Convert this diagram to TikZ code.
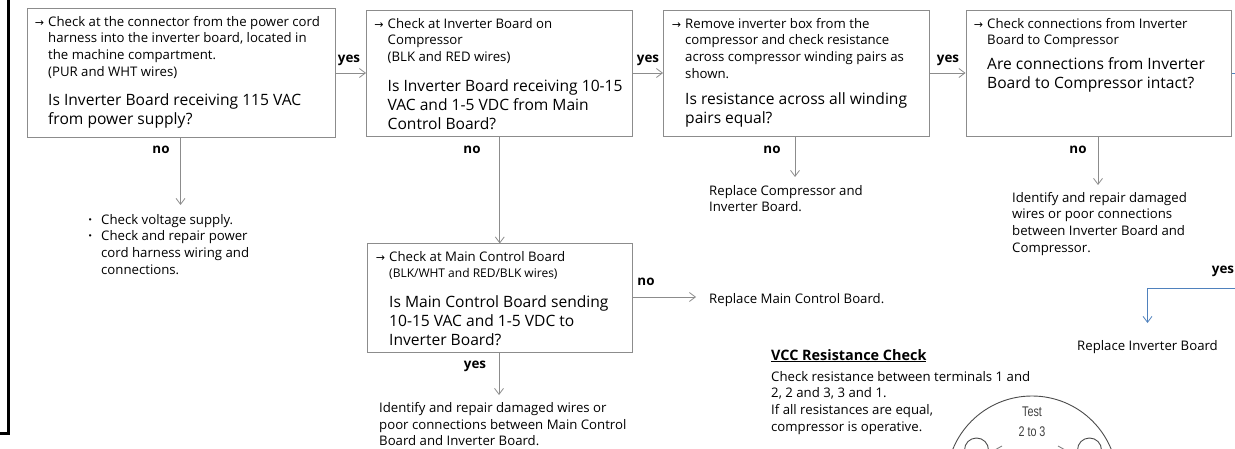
\documentclass[tikz,border=0pt]{standalone}
\usepackage{fontspec}
\usepackage{tikz}
\usetikzlibrary{arrows.meta}
\setmainfont{Open Sans}
\newfontfamily\arrowfont{DejaVu Sans}
\newfontfamily\testfont[FakeStretch=0.77]{Liberation Sans}
\definecolor{boxgray}{HTML}{8C8C8C}
\definecolor{flowblue}{HTML}{4F81BD}
\newcommand{\markarrow}{\llap{\fontsize{11}{11}\arrowfont →\hspace{4pt}}}
\newcommand{\markdot}{\llap{\textbf{·}\hspace{9pt}}}
\tikzset{
  checkbox/.style={draw=boxgray, line width=1pt, anchor=north west, inner sep=0pt},
  flow/.style={draw=boxgray, line width=0.8pt, ->, >={Straight Barb[length=6pt,width=9pt]}},
  answer/.style={font=\fontsize{13.4}{15}\selectfont\bfseries, inner sep=0pt},
  small/.style={font=\fontsize{13.2}{16.7}\selectfont, inner sep=0pt, align=left, anchor=north west},
  big/.style={font=\fontsize{15.6}{19}\selectfont, inner sep=0pt, align=left, anchor=north west},
  testlabel/.style={font=\fontsize{14}{14}\testfont, text=black!75, inner sep=0pt}
}
\begin{document}
\begin{tikzpicture}[x=1pt, y=-1pt]
    \useasboundingbox (0, 0) rectangle (1235, 449);

    % frame on the left
    \draw[line width=2.5pt] (8.5, 0) -- (8.5, 433.5) -- (0, 433.5);

    % boxes
    \node[checkbox, minimum width=308pt, minimum height=129pt] (power) at (26.5, 8) {};
    \node[checkbox, minimum width=265.5pt, minimum height=126pt] (inverter) at (366, 10) {};
    \node[checkbox, minimum width=265.5pt, minimum height=126pt] (winding) at (663, 10) {};
    \node[checkbox, minimum width=265.5pt, minimum height=126pt] (wiring) at (965.5, 10) {};
    \node[checkbox, minimum width=264.5pt, minimum height=108pt] (mainboard) at (367, 243.5) {};

    % text in the boxes
    \node[small] (powertext) at (48, 16) {\markarrow Check at the connector from the power cord\\harness into the inverter board, located in\\the machine  compartment.\\(PUR and WHT wires)};
    \node[big] (powerask) at (48, 93) {Is Inverter Board receiving 115 VAC\\from power supply?};

    \node[small] (invertertext) at (387.5, 18) {\markarrow Check at Inverter Board on\\Compressor\\(BLK and RED wires)};
    \node[big] (inverterask) at (387.5, 79) {Is Inverter Board receiving 10-15\\VAC and 1-5 VDC from Main\\Control Board?};

    \node[small] (windingtext) at (685, 18) {\markarrow Remove inverter box from the\\compressor and check resistance\\across compressor winding pairs as\\shown.};
    \node[big] (windingask) at (685, 92) {Is resistance across all winding\\pairs equal?};

    \node[small] (wiringtext) at (987, 18) {\markarrow Check connections from Inverter\\Board to Compressor};
    \node[big] (wiringask) at (987, 57) {Are connections from Inverter\\Board to Compressor intact?};

    \node[small] (maintext) at (389, 251) {\markarrow Check at Main Control Board\\{\fontsize{12}{15}\selectfont (BLK/WHT and RED/BLK wires)}};
    \node[big] (mainask) at (389, 295) {Is Main Control Board sending\\10-15 VAC and 1-5 VDC to\\Inverter Board?};

    % results
    \node[small] (supply) at (101, 214) {\markdot Check voltage supply.\\\markdot Check and repair power\\cord harness wiring and\\connections.};
    \node[small] (replacecomp) at (709, 185) {Replace Compressor and\\Inverter Board.};
    \node[small] (repairwires) at (1012, 192) {Identify and repair damaged\\wires or poor connections\\between Inverter Board and\\Compressor.};
    \node[small] (replacemain) at (709, 293) {Replace Main Control Board.};
    \node[small] (repairmain) at (379, 402) {Identify and repair damaged wires or\\poor connections between Main Control\\Board and Inverter Board.};
    \node[small] (replaceinv) at (1077, 340) {Replace Inverter Board};

    % resistance check
    \node[small, font=\fontsize{14.4}{16}\selectfont\bfseries] (vcctitle) at (771, 349) {\underline{VCC Resistance Check}};
    \node[small] (vcctext) at (771, 371) {Check resistance between terminals 1 and\\2, 2 and 3, 3 and 1.\\If all resistances are equal,\\compressor is operative.};

    % connectors
    \draw[flow] (power.east |- 0, 73) -- (inverter.west |- 0, 73);
    \draw[flow] (inverter.east |- 0, 73) -- (winding.west |- 0, 73);
    \draw[flow] (winding.east |- 0, 73) -- (wiring.west |- 0, 73);
    \coordinate (powerend) at (180.5, 205);
    \draw[flow] (power.south -| powerend) -- (powerend);
    \draw[flow] (inverter.south -| mainboard.south) -- (mainboard.north);
    \coordinate (windingend) at (795, 177);
    \draw[flow] (winding.south -| windingend) -- (windingend);
    \coordinate (wiringend) at (1098, 185);
    \draw[flow] (wiring.south -| wiringend) -- (wiringend);
    \coordinate (mainend) at (696, 297);
    \draw[flow] (mainboard.east |- mainend) -- (mainend);
    \coordinate (repairend) at (499, 395);
    \draw[flow] (mainboard.south -| repairend) -- (repairend);

    % blue line runs out of the picture on the right
    \coordinate (wiringout) at (1235, 73);
    \coordinate (blueout) at (1235, 288);
    \coordinate (blueend) at (1147.5, 323);
    \draw[flow, draw=flowblue] (blueout) -| (blueend);
    \draw[draw=flowblue, line width=0.8pt] (wiring.east |- wiringout) -- (wiringout);

    % yes/no
    \node[answer] (yesa) at (349, 60) {yes};
    \node[answer] (yesb) at (648, 60) {yes};
    \node[answer] (yesc) at (948, 60) {yes};
    \node[answer] (yesd) at (1223, 271) {yes};
    \node[answer] (yese) at (475, 366) {yes};
    \node[answer] (noa) at (161, 150) {no};
    \node[answer] (nob) at (472, 150) {no};
    \node[answer] (noc) at (772, 150) {no};
    \node[answer] (nod) at (1078, 150) {no};
    \node[answer] (noe) at (646, 282) {no};

    % terminal drawing, cut off by the edge of the picture
    \begin{scope}
      \clip (930, 385) rectangle (1140, 449);
      \draw[black!70, line width=0.9pt] (1032, 481.5) circle (85.5);
      \draw[black!70, line width=0.9pt] (976.5, 450) circle (12);
      \draw[black!70, line width=0.9pt] (1089.5, 450) circle (12);
      \draw[black!50, line width=0.9pt] (1002, 446) -- (993, 451);
      \draw[black!50, line width=0.9pt] (1058, 446) -- (1067, 451);
    \end{scope}
    \node[testlabel] (testa) at (1032, 412) {Test};
    \node[testlabel] (testb) at (1032, 431.5) {2 to 3};
\end{tikzpicture}
\end{document}
